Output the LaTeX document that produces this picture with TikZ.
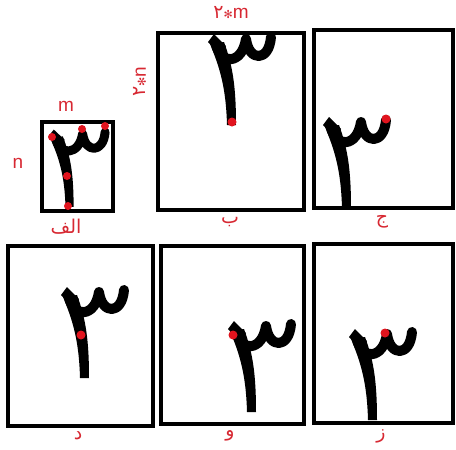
\documentclass[tikz,border=0pt]{standalone}
\usepackage{fontspec}
\setmainfont{Liberation Sans}
\newfontfamily\arabicfont[Script=Arabic]{DejaVu Sans}
\newfontfamily\symfont{DejaVu Sans}
\TeXXeTstate=1
\definecolor{labred}{RGB}{215,40,50}
\definecolor{dotred}{RGB}{225,20,30}
\tikzset{
  three/.pic={
    \fill (-4,4) -- (2,-4) -- (14,8) -- (9,17) -- cycle;
    \fill (-2,6) .. controls (8,30) and (14,50) .. (15,87)
          -- (24,87) .. controls (24,50) and (21,28) .. (12,4) -- cycle;
    \draw[line width=\pgfkeysvalueof{/tikz/bowlw},line cap=round,line join=round]
      (4,6) .. controls (8,27) and (30,27) .. (34,1)
            .. controls (37,24) and (57,24) .. (59,-1);
  },
  bowlw/.initial=10pt,
  frame/.style={draw=black,line width=4pt},
  rdot/.style={fill=dotred},
  lab/.style={text=labred,font=\arabicfont\fontsize{19}{19}\selectfont,inner sep=0pt},
  latin/.style={text=labred,font=\fontsize{19}{19}\selectfont,inner sep=0pt}
}
\begin{document}
\begin{tikzpicture}[x=1pt,y=-1pt]
\useasboundingbox (0,0) rectangle (456,450);
% frames
\draw[frame] (42,122) rectangle (113,211);
\draw[frame] (158,33) rectangle (304,210);
\draw[frame] (314,30) rectangle (453,208);
\draw[frame] (8,246) rectangle (153,426);
\draw[frame] (161,246) rectangle (304,424);
\draw[frame] (314,244) rectangle (453,423);
% glyphs
\pic[xscale=0.9,yscale=0.85,bowlw=9pt] at (52,133) {three};
\pic at (212,38) {three};
\pic at (327,121) {three};
\pic at (65,291) {three};
\pic at (232,325) {three};
\pic at (353,333) {three};
% dots
\foreach \p in {(52,137),(82,129),(105,126),(67,176),(68,206)}
  \fill[rdot] \p circle (4pt);
\fill[rdot] (232,122) circle (4.5pt);
\fill[rdot] (386,119) circle (4.5pt);
\fill[rdot] (81,335) circle (4.5pt);
\fill[rdot] (233,335) circle (4.5pt);
\fill[rdot] (385,333) circle (4.5pt);
% labels
\node[latin] (m) at (66,106) {m};
\node[latin] (n) at (18,163) {n};
\node[latin] (tm) at (231,13) {{\arabicfont ۲}{\symfont\fontsize{11}{11}\selectfont ✻}m};
\node[latin,rotate=90] (tn) at (140,82) {{\arabicfont ۲}{\symfont\fontsize{11}{11}\selectfont ✻}n};
\node[lab] (la) at (66,227) {\beginR الف\endR};
\node[lab] (lb) at (230,222) {\beginR ب\endR};
\node[lab] (lc) at (382,222) {\beginR ج\endR};
\node[lab] (ld) at (78,436) {\beginR د\endR};
\node[lab] (le) at (230,436) {\beginR و\endR};
\node[lab] (lf) at (381,436) {\beginR ز\endR};
\end{tikzpicture}
\end{document}
